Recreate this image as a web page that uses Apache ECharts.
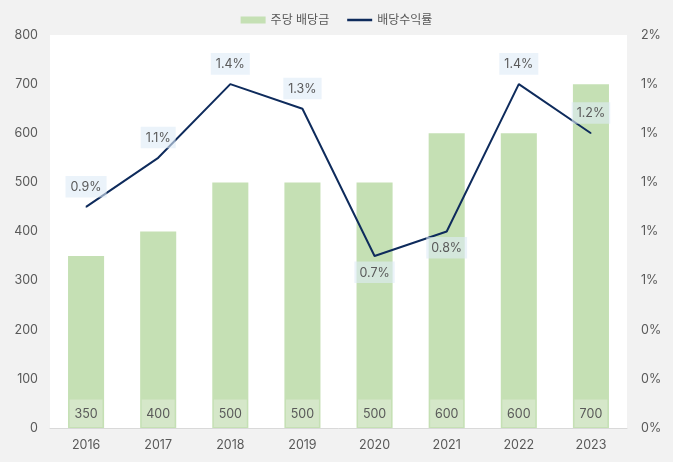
<!DOCTYPE html>
<html><head><meta charset="utf-8">
<script src="https://cdn.jsdelivr.net/npm/echarts@6/dist/echarts.min.js"></script>
<style>html,body{margin:0;padding:0;background:#f2f2f2}#c{width:673px;height:462px}</style>
</head><body><div id="c"></div>
<script>
var categories = ['2016','2017','2018','2019','2020','2021','2022','2023'];
var dividends = [350,400,500,500,500,600,600,700];
var yields = [0.9,1.1,1.4,1.3,0.7,0.8,1.4,1.2];
var labelBelow = [false,false,false,false,true,true,false,false];

var font = 'Inter, "Noto Sans CJK KR", sans-serif';
var txt = '#595959';
var navy = '#0e2b5c';
var chart = echarts.init(document.getElementById('c'));
chart.setOption({
  backgroundColor: '#f2f2f2',
  textStyle: {fontFamily: font},
  legend: {
    top: 9, left: 'center', itemWidth: 25, itemHeight: 7, itemGap: 18,
    textStyle: {color: txt, fontSize: 12, fontFamily: font},
    data: [{name: '주당 배당금', icon: 'rect'},
           {name: '배당수익률', icon: 'path://M0,0 L10,0 L10,1 L0,1 Z', itemStyle: {color: navy}}]
  },
  grid: {left: 50, right: 46, top: 35, bottom: 34, show: true, backgroundColor: '#ffffff', borderWidth: 0},
  xAxis: {
    type: 'category', data: categories,
    axisLine: {lineStyle: {color: '#d9d9d9'}}, axisTick: {show: false},
    axisLabel: {color: txt, fontSize: 12.5, margin: 11, fontFamily: font}
  },
  yAxis: [{
    type: 'value', min: 0, max: 800, interval: 100,
    splitLine: {show: false}, axisLine: {show: false}, axisTick: {show: false},
    axisLabel: {color: txt, fontSize: 12.5, margin: 12, fontFamily: font}
  }, {
    type: 'value', min: 0, max: 1.6, interval: 0.2,
    splitLine: {show: false}, axisLine: {show: false}, axisTick: {show: false},
    axisLabel: {color: txt, fontSize: 12.5, margin: 14, fontFamily: font,
      formatter: function (v) { return Math.round(v) + '%'; }}
  }],
  series: [{
    name: '주당 배당금', type: 'bar', data: dividends, barWidth: '50%',
    itemStyle: {color: '#c5e0b4'},
    label: {show: true, position: 'insideBottom', distance: 1, color: txt, fontSize: 12.5, fontFamily: font,
      backgroundColor: 'rgba(215,232,205,0.85)', padding: [8, 4, 7, 4], width: 25, align: 'center'}
  }, {
    name: '배당수익률', type: 'line', yAxisIndex: 1,
    data: yields.map(function (v, i) {
      return {value: v, label: {position: labelBelow[i] ? 'bottom' : 'top', distance: labelBelow[i] ? 5 : 9}};
    }),
    symbol: 'circle', symbolSize: 1, showSymbol: true,
    lineStyle: {color: navy, width: 2}, itemStyle: {color: navy},
    label: {show: true, color: txt, fontSize: 12.5, fontFamily: font, distance: 9,
      formatter: function (p) { return p.value.toFixed(1) + '%'; },
      backgroundColor: 'rgba(222,235,247,0.6)', padding: [5, 5, 4, 5]}
  }]
});
</script></body></html>
